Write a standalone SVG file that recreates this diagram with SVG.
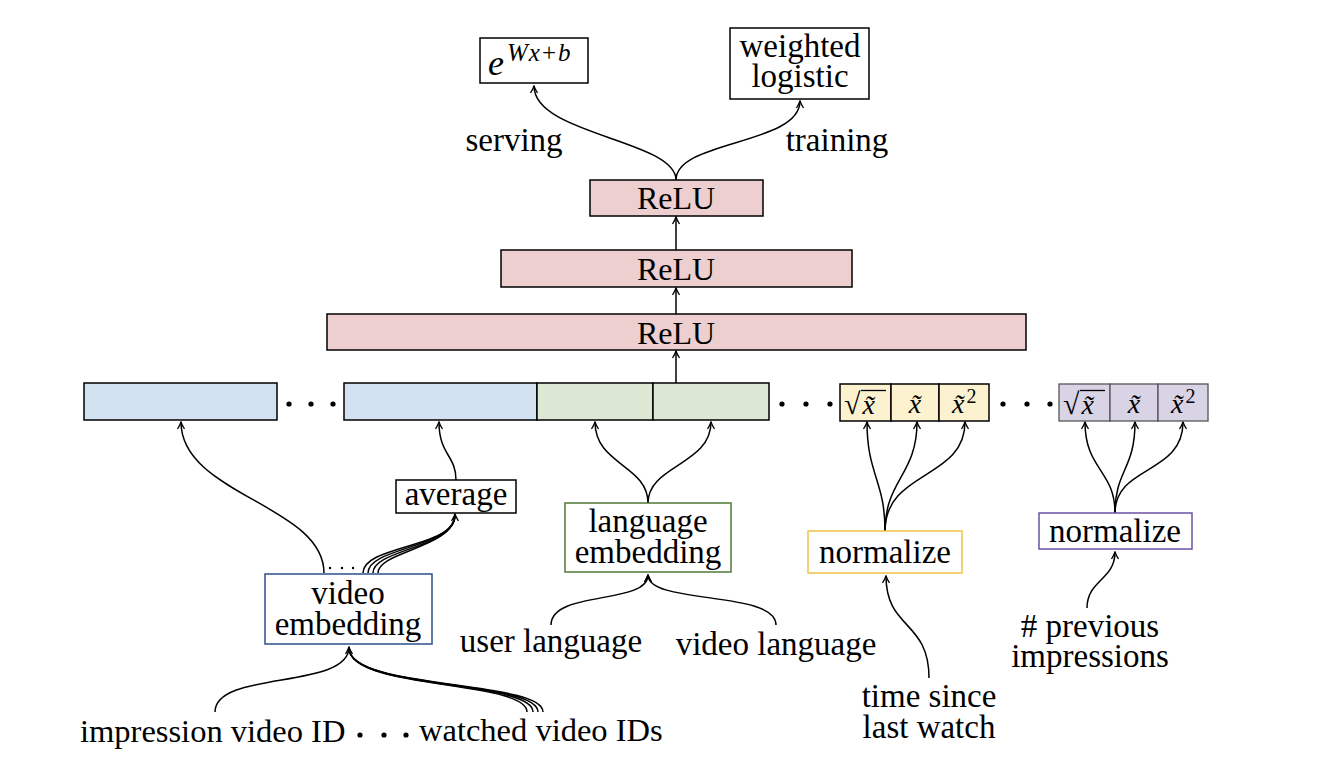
<svg xmlns="http://www.w3.org/2000/svg" width="1326" height="770" viewBox="0 0 1326 770">
<defs>
<style>
text{font-family:"Liberation Serif","Times New Roman",serif;fill:#000}
.t{font-size:33px;text-anchor:middle}
.relu{font-size:32px;text-anchor:middle}
.box{stroke:#000;stroke-width:1.5}
.c{fill:none;stroke:#000;stroke-width:1.5}
.m{font-style:italic}
.cell{font-size:28px}
.dot{fill:#000}
.pc{fill:#d9d3e6;stroke:#555;stroke-width:1.3}
</style>
<marker id="ar" viewBox="-9 -5 10 10" refX="0" refY="0" markerWidth="10" markerHeight="10" markerUnits="userSpaceOnUse" orient="auto">
<path d="M-7,-3.5 C-4,-1.6 -1.2,-0.4 0,0 C-1.2,0.4 -4,1.6 -7,3.5" fill="none" stroke="#000" stroke-width="1.3"/>
</marker>
</defs>
<rect width="1326" height="770" fill="#fff"/>

<g id="connectors">
<path class="c" marker-end="url(#ar)" d="M676,180 C676,140 534,135 534,86"/>
<path class="c" marker-end="url(#ar)" d="M676,180 C676,140 800,145 800,101"/>
<path class="c" marker-end="url(#ar)" d="M676,250 L676,217"/>
<path class="c" marker-end="url(#ar)" d="M676,314 L676,288"/>
<path class="c" marker-end="url(#ar)" d="M676,383 L676,351"/>
<path class="c" marker-end="url(#ar)" d="M324,573 C324,505 181,495 181,422"/>
<path class="c" d="M363,573 C363,545 455,548 455,515"/>
<path class="c" d="M368,573 C368,547 455,548 455,515"/>
<path class="c" d="M373,573 C373,549 455,548 455,515"/>
<path class="c" marker-end="url(#ar)" d="M378,573 C378,551 455,548 455,514"/>
<path class="c" marker-end="url(#ar)" d="M456,480 C456,455 439,455 439,422"/>
<path class="c" marker-end="url(#ar)" d="M215,712 C215,670 349,690 349,647"/>
<path class="c" d="M527,712 C527,680 349,690 349,648"/>
<path class="c" d="M533,712 C533,680 349,690 349,648"/>
<path class="c" d="M538,712 C538,680 349,690 349,648"/>
<path class="c" d="M543,712 C543,680 349,690 349,648"/>
<path class="c" marker-end="url(#ar)" d="M648,503 C648,465 595,465 595,422"/>
<path class="c" marker-end="url(#ar)" d="M648,503 C648,465 711,465 711,422"/>
<path class="c" marker-end="url(#ar)" d="M551,625 C551,590 648,605 648,575"/>
<path class="c" marker-end="url(#ar)" d="M776,625 C776,590 648,605 648,575"/>
<path class="c" marker-end="url(#ar)" d="M885,531 C885,480 867,475 867,422"/>
<path class="c" marker-end="url(#ar)" d="M885,531 C885,480 917,475 917,422"/>
<path class="c" marker-end="url(#ar)" d="M885,531 C885,470 965,480 965,422"/>
<path class="c" marker-end="url(#ar)" d="M929,678 C929,620 886,630 886,576"/>
<path class="c" marker-end="url(#ar)" d="M1115,513 C1115,470 1085,470 1085,422"/>
<path class="c" marker-end="url(#ar)" d="M1115,513 C1115,470 1135,470 1135,422"/>
<path class="c" marker-end="url(#ar)" d="M1115,513 C1115,465 1183,475 1183,422"/>
<path class="c" marker-end="url(#ar)" d="M1087,608 C1087,580 1115,580 1115,552"/>
</g>

<g id="exp">
<rect class="box" x="480" y="38" width="108" height="45" fill="#fff"/>
<text x="488" y="75" style="font-size:36px"><tspan class="m">e</tspan><tspan dx="3" dy="-14" style="font-size:25px" class="m">W</tspan><tspan dx="1" style="font-size:25px" class="m">x</tspan><tspan dx="2" style="font-size:25px">+</tspan><tspan dx="2" style="font-size:25px" class="m">b</tspan></text>
</g>
<g id="weighted">
<rect class="box" x="730" y="28" width="139" height="71" fill="#fff"/>
<text class="t" x="800" y="57">weighted<tspan x="800" dy="30">logistic</tspan></text>
</g>
<g id="labels-top">
<text class="t" x="514" y="151">serving</text>
<text class="t" x="837" y="151">training</text>
</g>

<g id="relu3">
<rect class="box" x="590" y="180" width="173" height="36" fill="#eecfcf"/>
<text class="relu" x="676" y="209">ReLU</text>
</g>
<g id="relu2">
<rect class="box" x="501" y="250" width="351" height="37" fill="#eecfcf"/>
<text class="relu" x="676" y="280">ReLU</text>
</g>
<g id="relu1">
<rect class="box" x="327" y="314" width="699" height="36" fill="#eecfcf"/>
<text class="relu" x="676" y="344">ReLU</text>
</g>

<g id="feature-row">
<rect class="box" x="84" y="383" width="193" height="37" fill="#d3e2f1"/>
<circle class="dot" cx="289" cy="404" r="2.6"/>
<circle class="dot" cx="311" cy="404" r="2.6"/>
<circle class="dot" cx="333" cy="404" r="2.6"/>
<rect class="box" x="344" y="383" width="193" height="37" fill="#d3e2f1"/>
<rect class="box" x="537" y="383" width="116" height="37" fill="#dde8d4"/>
<rect class="box" x="653" y="383" width="116" height="37" fill="#dde8d4"/>
<circle class="dot" cx="782" cy="404" r="2.6"/>
<circle class="dot" cx="806" cy="404" r="2.6"/>
<circle class="dot" cx="830" cy="404" r="2.6"/>
</g>

<g id="yellow-cells">
<rect class="box" x="840" y="384" width="51" height="37" fill="#fcf2d0"/>
<rect class="box" x="891" y="384" width="48" height="37" fill="#fcf2d0"/>
<rect class="box" x="939" y="384" width="50" height="37" fill="#fcf2d0"/>
<line x1="861" y1="390.5" x2="886" y2="390.5" stroke="#000" stroke-width="1.3"/>
<text x="844" y="414" class="cell"><tspan style="font-size:30px">√</tspan><tspan class="m" dx="2">x̃</tspan></text>
<text x="915" y="413" class="cell m" text-anchor="middle">x̃</text>
<text x="952" y="413" class="cell"><tspan class="m">x̃</tspan><tspan dx="2" dy="-10" style="font-size:20px">2</tspan></text>
</g>
<g id="dots2">
<circle class="dot" cx="1003" cy="404" r="2.6"/>
<circle class="dot" cx="1027" cy="404" r="2.6"/>
<circle class="dot" cx="1050" cy="404" r="2.6"/>
</g>
<g id="purple-cells">
<rect class="pc" x="1059" y="384" width="51" height="37"/>
<rect class="pc" x="1110" y="384" width="48" height="37"/>
<rect class="pc" x="1158" y="384" width="50" height="37"/>
<line x1="1080" y1="390.5" x2="1105" y2="390.5" stroke="#000" stroke-width="1.3"/>
<text x="1063" y="414" class="cell"><tspan style="font-size:30px">√</tspan><tspan class="m" dx="2">x̃</tspan></text>
<text x="1134" y="413" class="cell m" text-anchor="middle">x̃</text>
<text x="1171" y="413" class="cell"><tspan class="m">x̃</tspan><tspan dx="2" dy="-10" style="font-size:20px">2</tspan></text>
</g>

<g id="average">
<rect class="box" x="396" y="480" width="120" height="33" fill="#fff"/>
<text class="t" x="456" y="505">average</text>
</g>
<g id="video-embedding">
<circle class="dot" cx="330" cy="568" r="1.2"/>
<circle class="dot" cx="342" cy="568" r="1.2"/>
<circle class="dot" cx="353" cy="568" r="1.2"/>
<rect x="265" y="574" width="167" height="70" fill="#fff" stroke="#2c4f8f" stroke-width="1.5"/>
<text class="t" x="348" y="604">video<tspan x="348" dy="31">embedding</tspan></text>
</g>
<g id="language-embedding">
<rect x="565" y="503" width="166" height="69" fill="#fff" stroke="#4d7a34" stroke-width="1.5"/>
<text class="t" x="648" y="532">language<tspan x="648" dy="31">embedding</tspan></text>
</g>
<g id="normalize-yellow">
<rect x="808" y="531" width="154" height="42" fill="#fff" stroke="#efc145" stroke-width="1.5"/>
<text class="t" x="885" y="563">normalize</text>
</g>
<g id="normalize-purple">
<rect x="1039" y="513" width="153" height="36" fill="#fff" stroke="#6a52a8" stroke-width="1.5"/>
<text class="t" x="1115" y="542">normalize</text>
</g>

<g id="inputs">
<text x="80" y="742" style="font-size:32.5px">impression video ID</text>
<circle class="dot" cx="360" cy="735" r="2.6"/>
<circle class="dot" cx="384" cy="735" r="2.6"/>
<circle class="dot" cx="406" cy="735" r="2.6"/>
<text x="419" y="741" style="font-size:32.5px">watched video IDs</text>
<text class="t" x="551" y="652">user language</text>
<text class="t" x="776" y="655">video language</text>
<text class="t" x="929" y="707">time since<tspan x="929" dy="31">last watch</tspan></text>
<text class="t" x="1090" y="637"># previous<tspan x="1090" dy="30">impressions</tspan></text>
</g>
</svg>
